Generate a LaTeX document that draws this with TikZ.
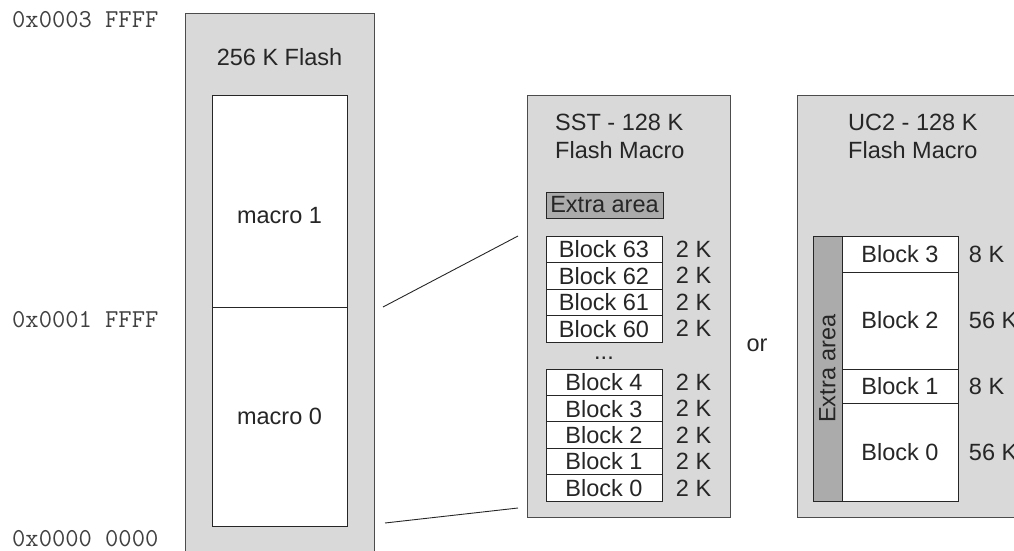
\documentclass[tikz,border=0pt]{standalone}
\usepackage{fontspec}
\setmainfont{Liberation Sans}
\usepackage{tikz}
\usetikzlibrary{positioning}

\begin{document}
\begin{tikzpicture}[x=1pt, y=-1pt, % Flash map
    every node/.style={font=\fontsize{23.5}{28}\selectfont, text=black!85},
    panel/.style={draw=black!70, fill=black!15, line width=1pt},
    cell/.style={draw=black!85, fill=white, line width=0.9pt, minimum width=116pt,
      minimum height=26.4pt, inner sep=0pt},
    extra/.style={draw=black!85, fill=black!33, line width=0.9pt, inner sep=0pt},
    addr/.style={font=\ttfamily\fontsize{25.8}{28}\selectfont, text=black!75,
      anchor=west, inner sep=0pt}]

      \clip (0,0) rectangle (1014,551);

      % 256 K flash
      \draw [panel] (185,14) rectangle (374,580);
      \node (flash) at (279.5,57) {256 K Flash};
      \node [cell, minimum width=135pt, minimum height=212pt] (macro1) at (279.5,201) {};
      \node [cell, minimum width=135pt, minimum height=219pt] (macro0) at (279.5,416.5) {};
      \node (macro1txt) at (279.5,216) {macro 1};
      \node (macro0txt) at (279.5,416) {macro 0};

      \node [addr] (addrtop) at (12,20) {0x0003 FFFF};
      \node [addr] (addrmid) at (12,320) {0x0001 FFFF};
      \node [addr] (addrbot) at (12,539) {0x0000 0000};

      % SST macro
      \draw [panel] (527,95) rectangle (730,517);
      \node [anchor=north west, align=left, inner sep=0pt] (ssttitle) at (555,113.5)
      {SST - 128 K\\Flash Macro};
      \node [extra, minimum width=117pt, minimum height=26pt] (sstextra) at (604.5,205) {Extra area};

      \foreach \n [count=\i] in {63,62,61,60} {
        \node [cell] (sst\n) at (604, {222.75+26.5*\i}) {Block \n};
        \node [right=10pt of sst\n] {2 K};
      }
      \node [inner sep=0pt] (sstdots) at (604,358) {...};
      \foreach \n [count=\i] in {4,3,2,1,0} {
        \node [cell] (sstb\n) at (604, {355.8+26.4*\i}) {Block \n};
        \node [right=10pt of sstb\n] {2 K};
      }

      \coordinate (zoomtop) at (383,307);
      \coordinate (zoombot) at (385,523);
      \draw [black!85, line width=0.9pt] (zoomtop) -- (518,236);
      \draw [black!85, line width=0.9pt] (zoombot) -- (518,508);

      \node (or) at (757,345) {or};

      % UC2 macro
      \draw [panel] (797,95) rectangle (1030,517);
      \node [anchor=north west, align=left, inner sep=0pt] (uctitle) at (848,113.5)
      {UC2 - 128 K\\Flash Macro};
      \node [extra, rotate=90, minimum width=265pt, minimum height=29pt] (ucextra)
      at (827.5,368.5) {Extra area};

      \foreach \n/\yc/\h/\sz in {3/254/36/8, 2/320.5/97/56, 1/386/34/8, 0/452/98/56} {
        \node [cell, minimum height=\h pt] (uc\n) at (900,\yc) {Block \n};
        \node [right=7pt of uc\n] {\sz\ K};
      }

    \end{tikzpicture}
\end{document}
